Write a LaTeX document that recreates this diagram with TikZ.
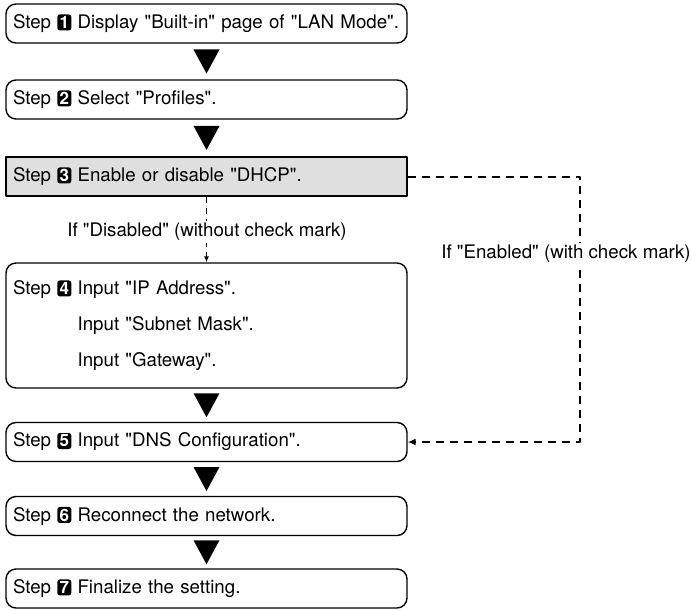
\documentclass[tikz,border=0pt]{standalone}
\usepackage{fontspec}
\setmainfont{TeX Gyre Heros}[Ligatures=TeXOff]
\usetikzlibrary{arrows.meta,calc}

\newcommand{\stepnum}[1]{\tikz[baseline=(n.base)]\node[fill=black,text=white,rounded corners=2.5pt,inner sep=0pt,minimum width=14pt,minimum height=16pt,font=\bfseries\fontsize{17}{17}\selectfont] (n) {#1};}

\begin{document}
\begin{tikzpicture}[
    x=1pt, y=-1pt,
    line join=round,
    every node/.style={
      font=\fontsize{18.7}{22}\selectfont
    },
    stepbox/.style={draw, line width=1.4pt, rounded corners=10pt,
      text width=387pt, inner xsep=7pt, inner ysep=0pt,
      minimum height=39pt, align=left},
    graybox/.style={stepbox, sharp corners, fill=gray!25, line width=1.8pt},
    dashline/.style={dash pattern=on 8pt off 6pt, line width=2pt,
      -{Latex[length=8pt,width=7pt]}},
    lbl/.style={fill=white, inner sep=2pt}
]
\useasboundingbox (0,0) rectangle (692,610);

% steps
\node[stepbox] (s1) at (206.5,23.5) {Step \stepnum{1} Display "Built-in" page of "LAN Mode".};
\node[stepbox] (s2) at (206.5,99.5) {Step \stepnum{2} Select "Profiles".};
\node[graybox] (s3) at (206.5,176.5) {Step \stepnum{3} Enable or disable "DHCP".};
\node[stepbox, minimum height=125pt] (s4) at (206.5,325.5)
  {Step \stepnum{4} Input "IP Address".\\[14pt]
   \hphantom{Step \stepnum{4}} Input "Subnet Mask".\\[14pt]
   \hphantom{Step \stepnum{4}} Input "Gateway".};
\node[stepbox] (s5) at (206.5,442) {Step \stepnum{5} Input "DNS Configuration".};
\node[stepbox] (s6) at (206.5,516) {Step \stepnum{6} Reconnect the network.};
\node[stepbox] (s7) at (206.5,588.5) {Step \stepnum{7} Finalize the setting.};

% down triangles
\foreach \a/\b in {s1/s2, s2/s3, s4/s5, s5/s6, s6/s7} {
  \fill ($(\a.south)!0.5!(\b.north)$) ++(-13pt,12pt) -- ++(26pt,0pt) -- ++(-13pt,-24pt) -- cycle;
}

% branches
\coordinate (turn) at (580,176.5);
\draw[dashline] (s3.east) -- (turn) |- (s5.east);
\draw[dashline, line width=1.8pt, dash pattern=on 6pt off 5pt,
  -{Latex[length=6pt,width=5pt]}] (s3.south) -- (s4.north);
\node[lbl] (dis) at (207,232) {If "Disabled" (without check mark)};
\node[lbl] (ena) at (566,254) {If "Enabled" (with check mark)};
\end{tikzpicture}
\end{document}
